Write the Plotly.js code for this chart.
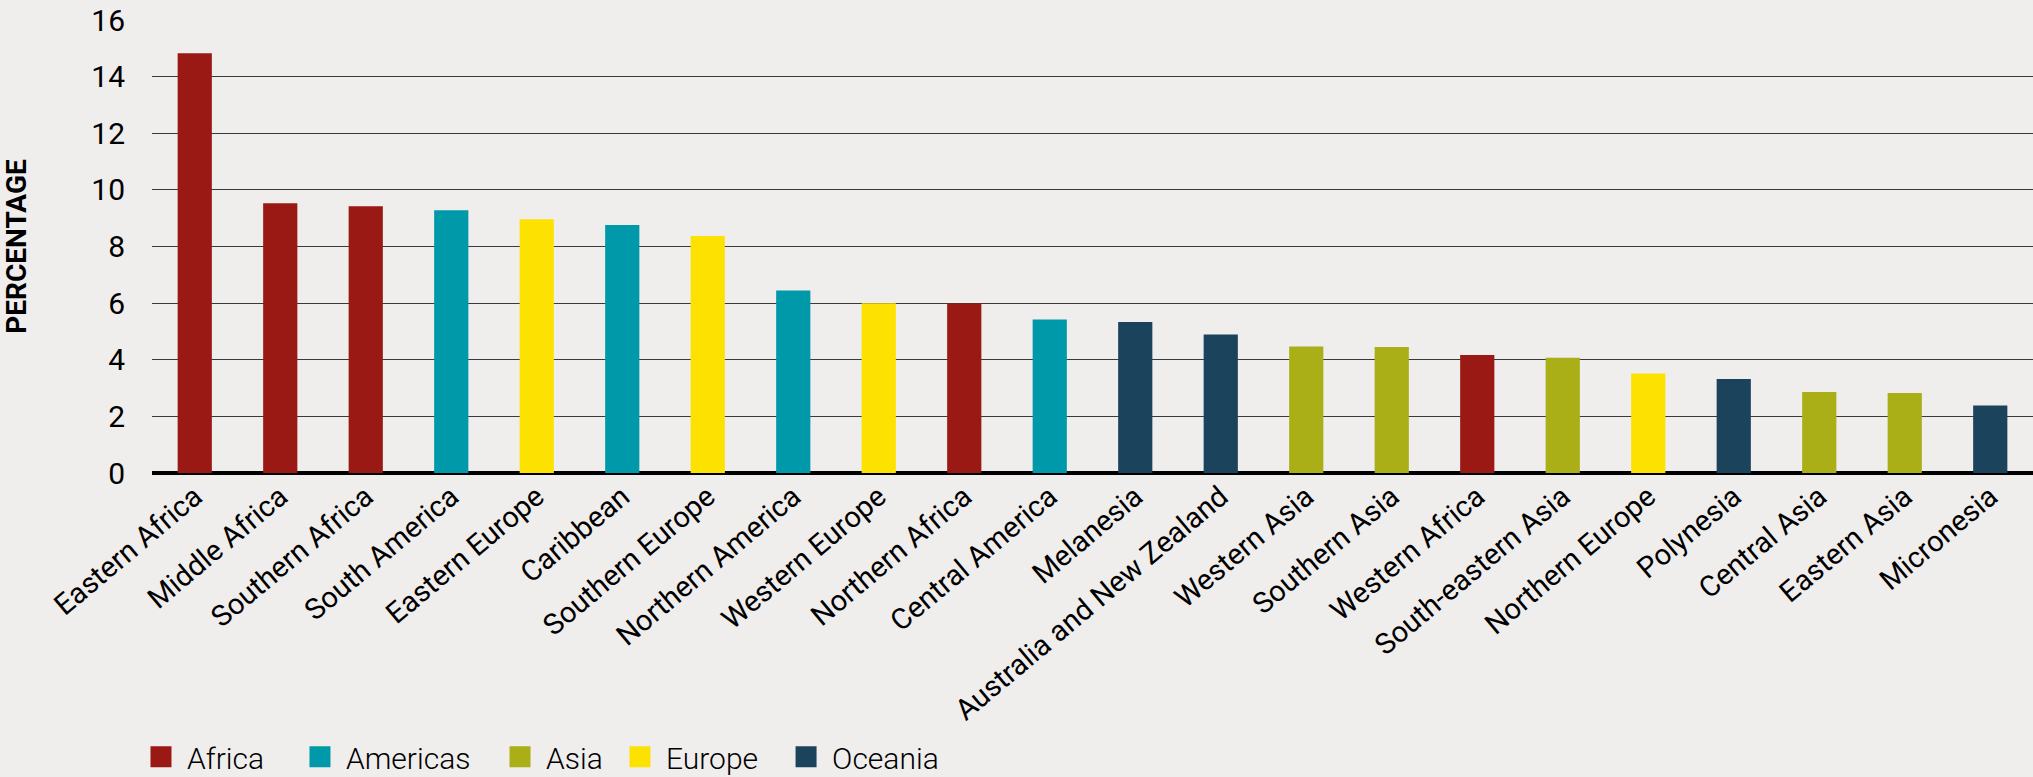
<!DOCTYPE html>
<html>
<head>
<meta charset="utf-8">
<script src="https://cdn.plot.ly/plotly-3.0.1.min.js"></script>
<style>
  html, body { margin: 0; padding: 0; background: #F0EDED; }
  #chart { width: 2033px; height: 777px; }
</style>
</head>
<body>
<div id="chart"></div>
<script>
const categories = [
  "Eastern Africa", "Middle Africa", "Southern Africa", "South America", "Eastern Europe",
  "Caribbean", "Southern Europe", "Northern America", "Western Europe", "Northern Africa",
  "Central America", "Melanesia", "Australia and New Zealand", "Western Asia", "Southern Asia",
  "Western Africa", "South-eastern Asia", "Northern Europe", "Polynesia", "Central Asia",
  "Eastern Asia", "Micronesia"
];
const values = [
  14.83, 9.53, 9.42, 9.28, 8.96,
  8.76, 8.37, 6.45, 6.0, 5.99,
  5.42, 5.33, 4.89, 4.47, 4.45,
  4.17, 4.07, 3.51, 3.32, 2.86,
  2.83, 2.38
];
const regions = [
  "Africa", "Africa", "Africa", "Americas", "Europe",
  "Americas", "Europe", "Americas", "Europe", "Africa",
  "Americas", "Oceania", "Oceania", "Asia", "Asia",
  "Africa", "Asia", "Europe", "Oceania", "Asia",
  "Asia", "Oceania"
];
const regionNames = ["Africa", "Americas", "Asia", "Europe", "Oceania"];
const regionColors = ["#9A1915", "#0099A9", "#AAAE17", "#FDE100", "#1C435C"];
const legendX = [0.0664, 0.1446, 0.2430, 0.3020, 0.3837];
const yTicks = [0, 2, 4, 6, 8, 10, 12, 14, 16];

const FONT = "Roboto, 'Liberation Sans', sans-serif";
const legendIds = regionNames.map((r, i) => i === 0 ? "legend" : "legend" + (i + 1));

const barTraces = regionNames.map((r, i) => {
  const xs = [], ys = [];
  categories.forEach((c, j) => { if (regions[j] === r) { xs.push(c); ys.push(values[j]); } });
  return {
    type: "bar",
    name: r,
    x: xs,
    y: ys,
    width: 0.4,
    showlegend: false,
    marker: { color: regionColors[i], line: { width: 0 } }
  };
});

// legend-only keys (no marks drawn), giving larger square swatches
const legendTraces = regionNames.map((r, i) => ({
  type: "scatter",
  mode: "markers",
  name: r,
  x: [null],
  y: [null],
  showlegend: true,
  legend: legendIds[i],
  marker: { symbol: "square", size: 16, color: regionColors[i], line: { width: 5, color: regionColors[i] } }
}));

const layout = {
  width: 2033,
  height: 777,
  paper_bgcolor: "#F0EDED",
  plot_bgcolor: "#F0EDED",
  barmode: "overlay",
  margin: { l: 152, r: 0, t: 20, b: 304 },
  font: { family: FONT, color: "#000" },
  xaxis: {
    type: "category",
    categoryorder: "array",
    categoryarray: categories,
    range: [-0.5, categories.length - 0.5],
    tickangle: -40,
    ticks: "",
    showgrid: false,
    showline: false,
    zeroline: false,
    tickfont: { family: FONT, size: 29, color: "#000" },
    automargin: false
  },
  yaxis: {
    range: [0, 16],
    tickvals: yTicks,
    ticktext: yTicks.map(String),
    ticks: "",
    ticklabelstandoff: 26,
    showgrid: true,
    gridcolor: "#3a3a3a",
    gridwidth: 1.2,
    zeroline: true,
    zerolinecolor: "#000",
    zerolinewidth: 4,
    showline: false,
    tickfont: { family: FONT, size: 30, color: "#000" },
    title: {
      text: "PERCENTAGE",
      font: { family: FONT, size: 28, weight: "bold", color: "#000" },
      standoff: 68
    },
    automargin: false
  },
  showlegend: true
};

legendIds.forEach((id, i) => {
  layout[id] = {
    orientation: "h",
    xref: "container",
    yref: "container",
    x: legendX[i],
    xanchor: "left",
    y: 0.026,
    yanchor: "middle",
    itemwidth: 42,
    bgcolor: "rgba(0,0,0,0)",
    font: { family: FONT, size: 30, weight: 300, color: "#000" }
  };
});

Plotly.newPlot("chart", barTraces.concat(legendTraces), layout, { displayModeBar: false, staticPlot: true });
</script>
</body>
</html>
